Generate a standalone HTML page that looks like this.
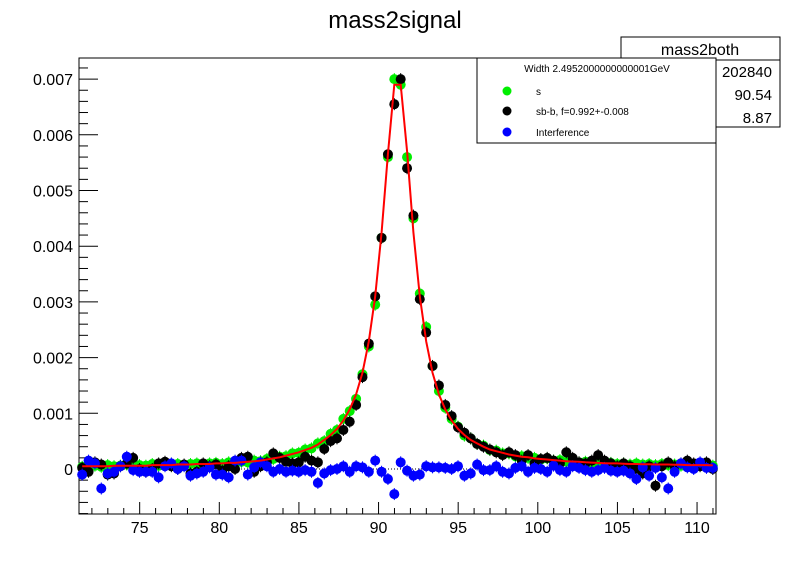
<!DOCTYPE html>
<html><head><meta charset="utf-8"><style>
body{margin:0;background:#fff;font-family:"Liberation Sans",sans-serif}
svg{display:block}
</style></head><body>
<svg id="c" width="796" height="572" xmlns="http://www.w3.org/2000/svg">
<rect width="796" height="572" fill="#fff"/>
<text x="395" y="28" font-size="24" text-anchor="middle">mass2signal</text>
<g id="plot"></g>
<g>
<rect x="621" y="37" width="159" height="90" fill="#fff" stroke="#000"/>
<line x1="621" y1="60" x2="780" y2="60" stroke="#000"/>
<text x="700" y="55" font-size="16" text-anchor="middle">mass2both</text>
<text x="772" y="77" font-size="15" text-anchor="end">202840</text>
<text x="772" y="100" font-size="15" text-anchor="end">90.54</text>
<text x="772" y="123" font-size="15" text-anchor="end">8.87</text>
</g>
<g>
<rect x="477" y="58" width="239" height="85" fill="#fff" stroke="#000"/>
<text x="597" y="72" font-size="10" text-anchor="middle">Width 2.4952000000000001GeV</text>
<circle cx="507" cy="91" r="4.5" fill="#00ee00"/><text x="536" y="95" font-size="10">s</text>
<circle cx="507" cy="111" r="4.5" fill="#000"/><text x="536" y="115" font-size="10">sb-b, f=0.992+-0.008</text>
<circle cx="507" cy="132" r="4.5" fill="#0000ff"/><text x="536" y="136" font-size="10">Interference</text>
</g>
</svg>
<script>
// values in units of 1e-4, bin centers 71.39 + 0.4*i
const xStart = 71.39, binW = 0.4;
const fitVals = [0.5,0.5,0.5,0.5,0.5,0.6,0.6,0.6,0.6,0.6, 0.6,0.7,0.7,0.7,0.7,0.8,0.8,0.8,0.9,0.9, 0.9,1.0,1.0,1.1,1.1,1.2,1.3,1.4,1.5,1.7, 1.9,2.1,2.4,2.7,3.0,3.4,3.8,4.4,5.2,6.1, 7.2,8.7,10.7,13.4,17.3,22.9,31,42.5,56.5,69, 69,57,42.5,31,22.9,17.3,13.4,10.7,8.7,7.2, 6.1,5.2,4.6,4.0,3.5,3.2,2.9,2.6,2.4,2.2, 2.1,1.9,1.8,1.7,1.6,1.5,1.4,1.35,1.3,1.2, 1.15,1.1,1.05,1.0,1.0,0.95,0.9,0.9,0.85,0.85, 0.8,0.8,0.8,0.75,0.75,0.7,0.7,0.7,0.7,0.65];
const sVals = [0.4,0.3,0.6,0.4,0.7,0.5,0.6,0.8,0.5,0.7, 0.6,0.9,0.6,0.8,0.7,0.9,0.7,0.9,1.0,0.8, 1.0,1.1,0.9,1.2,1.1,1.3,1.2,1.5,1.4,1.8, 1.8,2.2,2.3,2.8,2.9,3.5,3.7,4.6,5.0,6.3, 7.0,9.0,10.4,12.6,17.0,22.0,29.5,41.5,56,70, 69,56,45,31.5,25.5,18.5,14.0,11.0,9.0,7.6, 6.0,5.5,4.5,4.2,3.4,3.3,2.8,2.8,2.3,2.3, 2.0,2.0,1.7,1.9,1.5,1.6,1.3,1.5,1.2,1.3, 1.1,1.2,1.0,1.1,0.9,1.0,0.8,1.0,0.8,0.9, 0.7,0.9,0.7,0.8,0.6,0.8,0.6,0.7,0.8,0.6];
const sbVals = [0.2,-0.5,1.2,0.8,-1.0,-0.8,0.5,1.0,2.0,0.0, -0.5,0.0,1.0,1.3,0.5,0.0,0.8,-0.8,-0.5,1.0, 0.5,0.8,-0.3,0.5,0.0,2.0,2.2,-0.5,0.5,1.2, 2.8,2.0,1.3,1.0,1.2,2.2,1.5,1.2,3.6,5.0, 5.5,7.0,8.5,11.5,16.5,22.5,31,41.5,56.5,65.5, 70,54,45.5,30.5,24.5,18.5,15.0,11.5,9.5,7.5, 6.5,5.5,4.5,4.0,3.5,3.0,2.5,3.0,2.5,1.5, 2.5,1.0,1.8,2.0,1.5,1.0,3.0,2.0,1.2,1.0, 1.5,2.5,1.5,1.0,0.5,1.0,0.5,0.0,-0.8,0.5, -3.0,0.5,1.2,0.5,1.0,1.5,1.0,0.5,1.2,0.0];
const intVals = [-1.0,1.5,1.0,-3.5,-0.8,-0.5,0.5,2.2,-0.2,-0.5, -0.5,-0.5,-1.5,0.5,1.0,0.0,0.5,-1.2,-0.8,-0.5, 0.3,-1.0,-1.0,-1.5,1.5,1.5,-1.0,0.3,1.2,0.5, -0.5,0.0,-0.5,-0.3,-0.5,-0.2,-0.5,-2.5,-0.8,-0.2, 0.0,0.5,-0.5,0.5,0.3,-0.5,1.5,-0.5,-1.8,-4.5, 1.2,-0.3,-1.2,-1.0,0.5,0.3,0.3,0.2,0.0,0.5, -1.2,-0.8,0.8,-0.2,-0.2,0.5,-0.5,-0.8,0.2,0.5, -0.5,0.2,0.0,-0.5,0.6,-0.2,-0.5,0.5,0.2,-0.2, -0.5,-0.2,0.2,-0.3,-0.5,-0.3,-0.8,-1.8,0.3,-1.2, 0.2,-1.5,-3.5,-0.5,1.0,0.3,0.0,1.2,0.2,0.2];
const xTicks = [75,80,85,90,95,100,105,110];
const yTicks = [0,0.001,0.002,0.003,0.004,0.005,0.006,0.007];
const yTickLabels = ["0","0.001","0.002","0.003","0.004","0.005","0.006","0.007"];

const L=79,R=716,T=58,B=514, xMin=71.19, xMax=111.19;
const y0px=469, pxPer=55700;
const X=v=>L+(v-xMin)/(xMax-xMin)*(R-L);
const Y=v=>y0px-v*pxPer;
const NS="http://www.w3.org/2000/svg";
const g=document.getElementById('plot');
function mk(t,a,p){const e=document.createElementNS(NS,t);for(const k in a)e.setAttribute(k,a[k]);(p||g).appendChild(e);return e;}

const frame=mk('rect',{x:L,y:T,width:R-L,height:B-T,fill:'none',stroke:'#000'});


const zl=mk('line',{x1:L,x2:R,y1:Y(0),y2:Y(0),stroke:'#000','stroke-dasharray':'1,2'});



for(let v=72;v<=111;v++){const x=X(v);const maj=v%5===0;mk('line',{x1:x,x2:x,y1:B,y2:B-(maj?12:6),stroke:'#000'});}
xTicks.forEach(v=>{const t=mk('text',{x:X(v),y:B+19,'font-size':16,'text-anchor':'middle'});t.textContent=v;

});
for(let k=-4;k<=36;k++){const v=k*0.0002;const y=Y(v);if(y<T||y>B)continue;const maj=k%5===0;mk('line',{x1:L,x2:L+(maj?19:9),y1:y,y2:y,stroke:'#000'});}
yTicks.forEach((v,i)=>{const t=mk('text',{x:L-6,y:Y(v)+6,'font-size':16,'text-anchor':'end'});t.textContent=yTickLabels[i];

});

function series(vals,color,name,r){const gg=mk('g',{});
vals.forEach((v,i)=>{const x=X(xStart+binW*i),y=Y(v*1e-4);
mk('line',{x1:x,x2:x,y1:y-6,y2:y+6,stroke:color,'stroke-width':1},gg);
const c=mk('circle',{cx:x,cy:y,r:r,fill:color},gg);

});}
series(sVals,'#00ee00','series-s',5);
series(sbVals,'#000','series-sb',5);
series(intVals,'#0000ff','series-interference',5);
const pts=fitVals.map((v,i)=>X(xStart+binW*i).toFixed(1)+','+Y(v*1e-4).toFixed(1)).join(' ');
const pl=mk('polyline',{points:pts,fill:'none',stroke:'#ff0000','stroke-width':2});


</script>
</body></html>
